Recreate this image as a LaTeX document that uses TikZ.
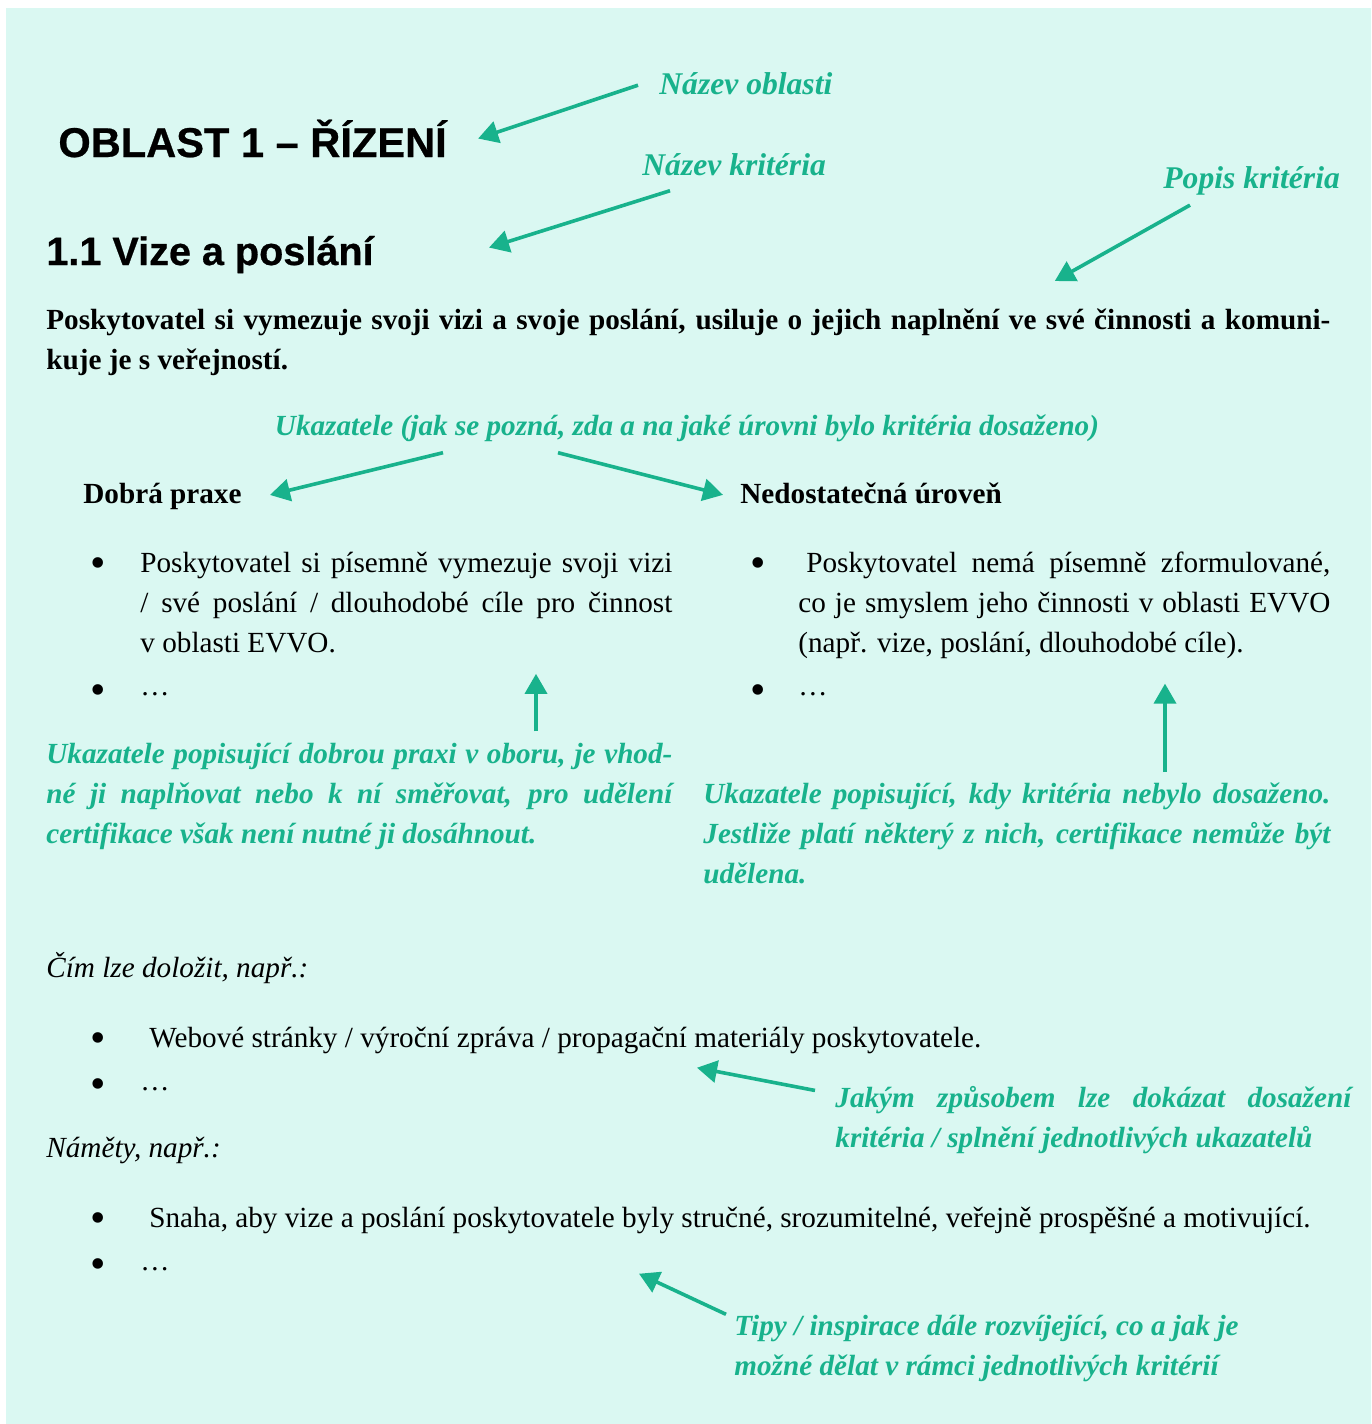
\documentclass[tikz,border=0pt]{standalone}
\usepackage{fontspec}
\setmainfont{Liberation Serif}
\newfontfamily\headfont{Liberation Sans}[BoldFeatures={FakeBold=0.6}]
\usepackage{xcolor}
\usepackage{tikz}
\usetikzlibrary{arrows.meta, positioning, calc}
\definecolor{mint}{RGB}{218,248,242}
\definecolor{pointer}{RGB}{24,178,140}
\hyphenpenalty=10000
\newcommand{\bodysize}{\fontsize{14.6pt}{20pt}\selectfont}
\newcommand{\notesize}{\fontsize{14.6pt}{20pt}\selectfont\bfseries\itshape}
\newcommand{\bignotesize}{\fontsize{15.8pt}{20pt}\selectfont\bfseries\itshape}
\newcommand{\areasize}{\headfont\bfseries\fontsize{20.8pt}{24pt}\selectfont}
\newcommand{\critsize}{\headfont\bfseries\fontsize{19.8pt}{24pt}\selectfont}
\tikzstyle{txt} = [inner sep=0pt, anchor=base west, font=\bodysize]
\tikzstyle{heading} = [inner sep=0pt, anchor=base west]
\tikzstyle{note} = [inner sep=0pt, anchor=base west, font=\notesize, text=pointer]
\tikzstyle{bignote} = [note, font=\bignotesize]
\tikzstyle{bulletmark} = [inner sep=0pt, anchor=base, font=\fontsize{22pt}{22pt}\selectfont]
\tikzstyle{arrow} = [line width=1.8pt, draw=pointer, -{Triangle[length=10pt,width=11pt]}]

\begin{document}
\begin{tikzpicture}[x=0.5pt, y=-0.5pt]
\useasboundingbox (0,0) rectangle (1371,1424);
\fill [mint] (6,8) rectangle (1371,1424);

% headings and criterion text
\node (area) [heading, font=\areasize] at (58,157) {OBLAST 1 – ŘÍZENÍ};
\node (crit) [heading, font=\critsize] at (46,265) {1.1 Vize a poslání};
\node (critdesc) [txt, font=\bodysize\bfseries, text width=642pt, align=justify] at (46,329)
  {Poskytovatel si vymezuje svoji vizi a svoje poslání, usiluje o jejich naplnění ve své činnosti a komuni-\linebreak kuje je s veřejností.};

% labels at the top
\node (lblarea) [bignote] at (659,94) {Název oblasti};
\node (lblcrit) [bignote] at (642,175) {Název kritéria};
\node (lbldesc) [bignote] at (1163,188) {Popis kritéria};

% indicators
\node (lblind) [note, anchor=base] at (687,435) {Ukazatele (jak se pozná, zda a na jaké úrovni bylo kritéria dosaženo)};
\node (good) [txt, font=\bodysize\bfseries] at (83,503) {Dobrá praxe};
\node (bad) [txt, font=\bodysize\bfseries] at (740,503) {Nedostatečná úroveň};

\node (gooddot1) [bulletmark] at (98,577) {•};
\node (goodi) [txt, text width=266pt, align=justify] at (140,572)
  {Poskytovatel si písemně vymezuje svoji vizi\linebreak / své poslání / dlouhodobé cíle pro činnost\linebreak v~oblasti EVVO.};
\node (gooddot2) [bulletmark] at (98,704) {•};
\node (goodii) [txt] at (140,695) {…};

\node (baddot1) [bulletmark] at (758,577) {•};
\node (badi) [txt, text width=266pt, align=justify] at (798,572)
  {\hspace*{4pt}Poskytovatel nemá písemně zformulované,\linebreak co je smyslem jeho činnosti v~oblasti EVVO\linebreak (např. vize, poslání, dlouhodobé cíle).};
\node (baddot2) [bulletmark] at (758,704) {•};
\node (badii) [txt] at (798,695) {…};

\node (lblgood) [note, text width=313pt, align=justify] at (46,763)
  {Ukazatele popisující dobrou praxi v~oboru, je vhod-\linebreak né ji naplňovat nebo k~ní směřovat, pro udělení\linebreak certifikace však není nutné ji dosáhnout.};
\node (lblbad) [note, text width=313.5pt, align=justify] at (703,803)
  {Ukazatele popisující, kdy kritéria nebylo dosaženo.\linebreak Jestliže platí některý z~nich, certifikace nemůže být\linebreak udělena.};

% evidence
\node (evid) [txt, font=\bodysize\itshape] at (46,977) {Čím lze doložit, např.:};
\node (eviddot1) [bulletmark] at (98,1052) {•};
\node (evidi) [txt] at (149,1047) {Webové stránky / výroční zpráva / propagační materiály poskytovatele.};
\node (eviddot2) [bulletmark] at (98,1098) {•};
\node (evidii) [txt] at (140,1090) {…};
\node (lblevid) [note, text width=258pt, align=justify] at (835,1107)
  {Jakým způsobem lze dokázat dosažení\linebreak kritéria / splnění jednotlivých ukazatelů};

% ideas
\node (ideas) [txt, font=\bodysize\itshape] at (46,1157) {Náměty, např.:};
\node (ideasdot1) [bulletmark] at (98,1232) {•};
\node (ideasi) [txt] at (149,1227) {Snaha, aby vize a poslání poskytovatele byly stručné, srozumitelné, veřejně prospěšné a motivující.};
\node (ideasdot2) [bulletmark] at (98,1278) {•};
\node (ideasii) [txt] at (140,1270) {…};
\node (lbltips) [note, align=left] at (734,1375)
  {Tipy / inspirace dále rozvíjející, co a jak je\\ možné dělat v~rámci jednotlivých kritérií};

% pointers
\draw [arrow] ($(lblarea.west)+(-21,2)$) -- ($(area.east)+(31,0)$);
\draw [arrow] ($(lblcrit.south west)+(28,15)$) -- ($(crit.east)+(115,-7)$);
\draw [arrow] ($(lbldesc.south west)+(27,10)$) -- ($(critdesc.north east)+(-276,-27)$);
\draw [arrow] ($(lblind.south)+(-244,11)$) -- ($(good.east)+(28,-1)$);
\draw [arrow] ($(lblind.south)+(-129,11)$) -- ($(bad.west)+(-17,2)$);
\draw [arrow] ($(lblgood.north west)+(490,-11)$) -- ($(goodi.south west)+(396,21)$);
\draw [arrow] ($(lblbad.north west)+(462,-10)$) -- ($(badi.south west)+(367,25)$);
\draw [arrow] ($(lblevid.north west)+(-20,5)$) -- ($(evidi.south west)+(548,14)$);
\draw [arrow] ($(lbltips.north west)+(-8,0)$) -- ($(ideasi.south west)+(490,40)$);
\end{tikzpicture}
\end{document}
